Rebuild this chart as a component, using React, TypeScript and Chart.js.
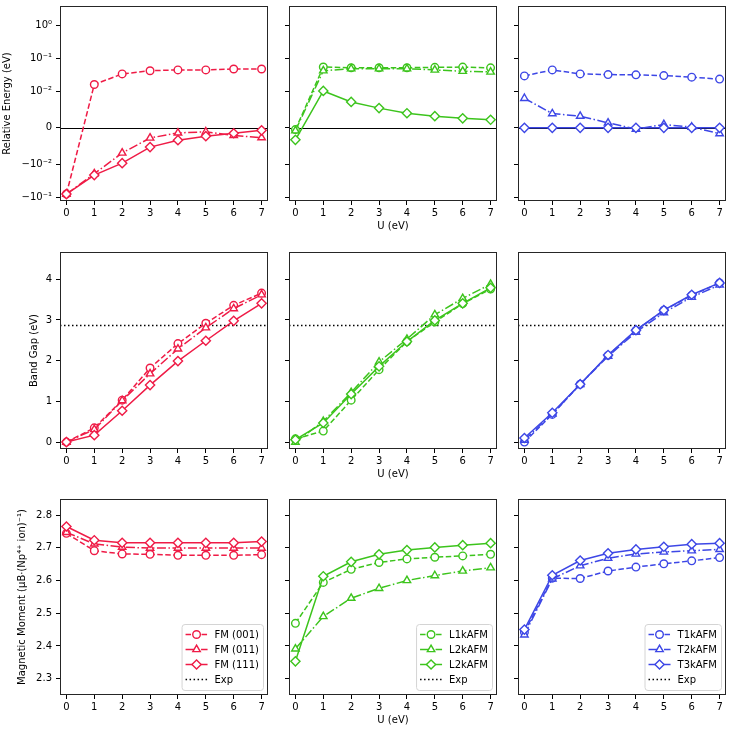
import React, { useEffect, useRef } from 'react';
import { Chart, registerables, Scale } from 'chart.js';

// ---------------- DATA ----------------
const U = [0, 1, 2, 3, 4, 5, 6, 7];
const xTickValues = [0, 1, 2, 3, 4, 5, 6, 7];

// Relative energy (eV), symlog axis
const energyFM001 = [-0.081, 0.0162, 0.034, 0.0425, 0.045, 0.045, 0.048, 0.048];
const energyFM011 = [-0.081, -0.0195, -0.0069, -0.0028, -0.0014, -0.0011, -0.0021, -0.0027];
const energyFM111 = [-0.081, -0.0214, -0.0097, -0.0053, -0.0034, -0.0023, -0.0015, -0.0007];
const energyL1k = [-0.0005, 0.0552, 0.0525, 0.0525, 0.0525, 0.054, 0.055, 0.052];
const energyL2k = [-0.0008, 0.0425, 0.049, 0.049, 0.049, 0.045, 0.041, 0.039];
const energyL3k = [-0.0033, 0.0103, 0.0071, 0.0054, 0.004, 0.0032, 0.0026, 0.0022];
const energyT1k = [0.0296, 0.045, 0.034, 0.0325, 0.0318, 0.0303, 0.0271, 0.0236];
const energyT2k = [0.0081, 0.0039, 0.0032, 0.00135, -0.00035, 0.0009, 0.0002, -0.0016];
const energyT3k = [0, 0, 0, 0, 0, 0, 0, 0];
const energyTicks = [-0.1, -0.01, 0, 0.01, 0.1, 1];
const energyTickLabels = ['\u221210\u207B\u00B9', '\u221210\u207B\u00B2', '0', '10\u207B\u00B2', '10\u207B\u00B9', '10\u2070'];
const energyMin = -0.132;
const energyMax = 4.0;
const energyRef = 0;

// Band gap (eV)
const gapFM001 = [0, 0.35, 1.03, 1.82, 2.42, 2.92, 3.36, 3.66];
const gapFM011 = [0, 0.31, 1.02, 1.68, 2.29, 2.81, 3.28, 3.62];
const gapFM111 = [0, 0.17, 0.77, 1.4, 1.99, 2.49, 2.98, 3.41];
const gapL1k = [0.08, 0.27, 1.03, 1.78, 2.47, 2.95, 3.4, 3.76];
const gapL2k = [0.0, 0.51, 1.22, 1.97, 2.53, 3.13, 3.53, 3.88];
const gapL3k = [0.06, 0.47, 1.18, 1.86, 2.47, 2.99, 3.41, 3.79];
const gapT1k = [0.0, 0.68, 1.42, 2.13, 2.74, 3.24, 3.6, 3.91];
const gapT2k = [0.05, 0.69, 1.42, 2.11, 2.7, 3.18, 3.56, 3.86];
const gapT3k = [0.1, 0.72, 1.42, 2.14, 2.75, 3.24, 3.62, 3.91];
const gapTicks = [0, 1, 2, 3, 4];
const gapMin = -0.17;
const gapMax = 4.67;
const gapExp = 2.88;

// Magnetic moment
const momentFM001 = [2.744, 2.691, 2.681, 2.68, 2.677, 2.677, 2.677, 2.679];
const momentFM011 = [2.747, 2.712, 2.702, 2.699, 2.699, 2.699, 2.699, 2.699];
const momentFM111 = [2.765, 2.723, 2.715, 2.715, 2.715, 2.715, 2.715, 2.719];
const momentL1k = [2.469, 2.594, 2.634, 2.655, 2.666, 2.671, 2.675, 2.68];
const momentL2k = [2.391, 2.49, 2.546, 2.576, 2.6, 2.615, 2.629, 2.639];
const momentL3k = [2.353, 2.613, 2.657, 2.68, 2.693, 2.701, 2.708, 2.714];
const momentT1k = [2.442, 2.607, 2.606, 2.629, 2.641, 2.651, 2.66, 2.67];
const momentT2k = [2.434, 2.605, 2.645, 2.668, 2.681, 2.687, 2.691, 2.695];
const momentT3k = [2.45, 2.616, 2.661, 2.683, 2.695, 2.703, 2.711, 2.714];
const momentTicks = [2.3, 2.4, 2.5, 2.6, 2.7, 2.8];
const momentMin = 2.25;
const momentMax = 2.849;

const labelsFM = ['FM (001)', 'FM (011)', 'FM (111)'];
const labelsL = ['L1kAFM', 'L2kAFM', 'L2kAFM'];
const labelsT = ['T1kAFM', 'T2kAFM', 'T3kAFM'];
const expLabel = 'Exp';

const yTitles = ['Relative Energy (eV)', 'Band Gap (eV)', 'Magnetic Moment (\u03BCB\u00B7(Np\u2074\u207A ion)\u207B\u00B9)'];
const xTitle = 'U (eV)';

// ---------------- STYLE / LAYOUT ----------------
const RED = '#ef1b46';
const GREEN = '#3cc41c';
const BLUE = '#3d47e6';
const FONT_FAMILY = "'DejaVu Sans', sans-serif";
const FONT = { family: FONT_FAMILY, size: 10 };
const X_MIN = -0.23;
const X_MAX = 7.23;
const COL_L = [60, 289, 518];
const PLOT_W = 210;
const ROW_T = [3, 249, 496];
const ROW_H = [198, 200, 199];
const PAD_TOP = 3;
const PAD_RIGHT = 4;
const X_AXIS_H = 32;
const Y_TITLE_PAD = [1, 28, 16];

const DASHES = [[5.5, 2.5], [9, 2.5, 1.5, 2.5], []];
const POINTS = ['circle', 'triangle', 'rectRot'];
const RADII = [3.8, 4.3, 4.6];

// ---------------- SYMLOG SCALE ----------------
const LINTHRESH = 0.01;
const LINSCALE_ADJ = 1 / (1 - 1 / 10);
function symT(v: number) {
  const a = Math.abs(v);
  if (a <= LINTHRESH) return (v / LINTHRESH) * LINSCALE_ADJ;
  return Math.sign(v) * (LINSCALE_ADJ + Math.log10(a / LINTHRESH));
}
function symInv(t: number) {
  const a = Math.abs(t);
  if (a <= LINSCALE_ADJ) return (t / LINSCALE_ADJ) * LINTHRESH;
  return Math.sign(t) * LINTHRESH * Math.pow(10, a - LINSCALE_ADJ);
}

class SymlogScale extends Scale {
  static id = 'symlog';
  static defaults = {};
  determineDataLimits() {
    // @ts-ignore
    this.min = this.options.min;
    // @ts-ignore
    this.max = this.options.max;
  }
  buildTicks() {
    return [];
  }
  getLabelForValue(v: any) {
    return String(v);
  }
  getPixelForValue(v: any) {
    if (v === null || v === undefined || isNaN(v)) return NaN;
    // @ts-ignore
    const t0 = symT(this.min), t1 = symT(this.max);
    // @ts-ignore
    return this.getPixelForDecimal((symT(v) - t0) / (t1 - t0));
  }
  getValueForPixel(p: number) {
    // @ts-ignore
    const t0 = symT(this.min), t1 = symT(this.max);
    // @ts-ignore
    return symInv(t0 + this.getDecimalForPixel(p) * (t1 - t0));
  }
}

Chart.register(...registerables, SymlogScale as any);

// ---------------- PANELS ----------------
type Kind = 'energy' | 'gap' | 'moment';
type PanelCfg = { row: number; col: number; kind: Kind; series: number[][]; labels: string[]; color: string };

const PANELS: PanelCfg[] = [
  { row: 0, col: 0, kind: 'energy', series: [energyFM001, energyFM011, energyFM111], labels: labelsFM, color: RED },
  { row: 0, col: 1, kind: 'energy', series: [energyL1k, energyL2k, energyL3k], labels: labelsL, color: GREEN },
  { row: 0, col: 2, kind: 'energy', series: [energyT1k, energyT2k, energyT3k], labels: labelsT, color: BLUE },
  { row: 1, col: 0, kind: 'gap', series: [gapFM001, gapFM011, gapFM111], labels: labelsFM, color: RED },
  { row: 1, col: 1, kind: 'gap', series: [gapL1k, gapL2k, gapL3k], labels: labelsL, color: GREEN },
  { row: 1, col: 2, kind: 'gap', series: [gapT1k, gapT2k, gapT3k], labels: labelsT, color: BLUE },
  { row: 2, col: 0, kind: 'moment', series: [momentFM001, momentFM011, momentFM111], labels: labelsFM, color: RED },
  { row: 2, col: 1, kind: 'moment', series: [momentL1k, momentL2k, momentL3k], labels: labelsL, color: GREEN },
  { row: 2, col: 2, kind: 'moment', series: [momentT1k, momentT2k, momentT3k], labels: labelsT, color: BLUE },
];

function markerPath(ctx: CanvasRenderingContext2D, style: string, x: number, y: number, r: number) {
  ctx.beginPath();
  if (style === 'circle') {
    ctx.arc(x, y, r, 0, Math.PI * 2);
  } else if (style === 'triangle') {
    ctx.moveTo(x, y - r);
    ctx.lineTo(x + r * Math.sin((2 * Math.PI) / 3), y - r * Math.cos((2 * Math.PI) / 3));
    ctx.lineTo(x + r * Math.sin((4 * Math.PI) / 3), y - r * Math.cos((4 * Math.PI) / 3));
  } else if (style === 'rectRot') {
    ctx.moveTo(x - r, y);
    ctx.lineTo(x, y - r);
    ctx.lineTo(x + r, y);
    ctx.lineTo(x, y + r);
  }
  ctx.closePath();
}

function makeDecorPlugin(hline: { value: number; dash: number[]; width: number } | null, legend: boolean) {
  return {
    id: 'decor',
    beforeDatasetsDraw(chart: any) {
      if (!hline) return;
      const { ctx, chartArea } = chart;
      const y = Math.round(chart.scales.y.getPixelForValue(hline.value)) + 0.5;
      ctx.save();
      ctx.strokeStyle = '#000';
      ctx.lineWidth = hline.width;
      ctx.setLineDash(hline.dash);
      ctx.beginPath();
      ctx.moveTo(chartArea.left, y);
      ctx.lineTo(chartArea.right, y);
      ctx.stroke();
      ctx.restore();
    },
    afterDatasetsDraw(chart: any) {
      if (!legend) return;
      const { ctx, chartArea } = chart;
      const items = chart.data.datasets.filter((d: any) => d.label);
      ctx.save();
      ctx.font = `10px ${FONT_FAMILY}`;
      const tw = Math.max(...items.map((d: any) => ctx.measureText(d.label).width));
      const rowH = 15, padX = 4, padY = 3, handle = 22, gap = 7;
      const w = padX + handle + gap + tw + padX;
      const h = padY * 2 + rowH * items.length;
      const x = chartArea.right - 5 - w;
      const y = chartArea.bottom - 5 - h;
      ctx.beginPath();
      if ((ctx as any).roundRect) (ctx as any).roundRect(x + 0.5, y + 0.5, w, h, 3);
      else ctx.rect(x + 0.5, y + 0.5, w, h);
      ctx.fillStyle = 'rgba(255,255,255,0.8)';
      ctx.fill();
      ctx.strokeStyle = '#d4d4d4';
      ctx.lineWidth = 1;
      ctx.stroke();
      items.forEach((d: any, i: number) => {
        const cy = y + padY + rowH * i + rowH / 2;
        const x0 = x + padX;
        ctx.save();
        ctx.strokeStyle = d.borderColor;
        ctx.lineWidth = d.borderWidth;
        ctx.setLineDash(d.borderDash || []);
        ctx.beginPath();
        ctx.moveTo(x0, cy);
        ctx.lineTo(x0 + handle, cy);
        ctx.stroke();
        ctx.restore();
        if (d.pointRadius > 0) {
          ctx.save();
          ctx.setLineDash([]);
          ctx.lineWidth = d.pointBorderWidth;
          ctx.strokeStyle = d.borderColor;
          ctx.fillStyle = '#ffffff';
          markerPath(ctx, d.pointStyle, x0 + handle / 2, cy, d.pointRadius);
          ctx.fill();
          ctx.stroke();
          ctx.restore();
        }
        ctx.fillStyle = '#000';
        ctx.textBaseline = 'middle';
        ctx.textAlign = 'left';
        ctx.fillText(d.label, x0 + handle + gap, cy + 0.5);
      });
      ctx.restore();
    },
    afterDraw(chart: any) {
      const { ctx, chartArea } = chart;
      ctx.save();
      ctx.strokeStyle = '#262626';
      ctx.lineWidth = 1;
      ctx.setLineDash([]);
      ctx.strokeRect(chartArea.left + 0.5, chartArea.top + 0.5, chartArea.right - chartArea.left - 1, chartArea.bottom - chartArea.top - 1);
      ctx.restore();
    },
  };
}

function axisWidth(col: number) {
  return col === 0 ? COL_L[0] : 12;
}

function buildConfig(cfg: PanelCfg): any {
  const datasets: any[] = cfg.series.map((vals, i) => ({
    label: cfg.labels[i],
    data: U.map((u, k) => ({ x: u, y: vals[k] })),
    borderColor: cfg.color,
    backgroundColor: '#ffffff',
    borderWidth: 1.5,
    borderDash: DASHES[i],
    pointStyle: POINTS[i],
    pointRadius: RADII[i],
    pointBorderWidth: 1.4,
    pointBackgroundColor: '#ffffff',
    pointBorderColor: cfg.color,
    tension: 0,
    fill: false,
    order: 3 - i,
  }));
  const legend = cfg.kind === 'moment';
  if (legend) {
    datasets.push({
      label: expLabel,
      data: [],
      borderColor: '#000',
      borderWidth: 1.5,
      borderDash: [1.5, 2.5],
      pointRadius: 0,
      pointBorderWidth: 0,
      order: 0,
    });
  }

  const col0 = cfg.col === 0;
  let yScale: any;
  const yCommon = {
    position: 'left',
    grid: { display: true, drawOnChartArea: false, drawTicks: true, tickLength: 4, color: '#000', lineWidth: 1 },
    border: { display: false },
    afterFit: (s: any) => {
      s.width = axisWidth(cfg.col);
      s.paddingTop = 0;
      s.paddingBottom = 0;
    },
    title: {
      display: col0,
      text: yTitles[cfg.row],
      font: FONT,
      color: '#000',
      padding: { top: Y_TITLE_PAD[cfg.row], bottom: 0 },
    },
  };
  const tickCommon = { display: col0, font: FONT, color: '#000', padding: 4, autoSkip: false };
  if (cfg.kind === 'energy') {
    yScale = {
      ...yCommon,
      type: 'symlog',
      min: energyMin,
      max: energyMax,
      afterBuildTicks: (s: any) => { s.ticks = energyTicks.map((v) => ({ value: v })); },
      ticks: { ...tickCommon, callback: (v: number) => energyTickLabels[energyTicks.indexOf(v)] },
    };
  } else if (cfg.kind === 'gap') {
    yScale = {
      ...yCommon,
      type: 'linear',
      bounds: 'data',
      min: gapMin,
      max: gapMax,
      afterBuildTicks: (s: any) => { s.ticks = gapTicks.map((v) => ({ value: v })); },
      ticks: { ...tickCommon, callback: (v: number) => String(v) },
    };
  } else {
    yScale = {
      ...yCommon,
      type: 'linear',
      bounds: 'data',
      min: momentMin,
      max: momentMax,
      afterBuildTicks: (s: any) => { s.ticks = momentTicks.map((v) => ({ value: v })); },
      ticks: { ...tickCommon, callback: (v: number) => v.toFixed(1) },
    };
  }

  const hline =
    cfg.kind === 'energy'
      ? { value: energyRef, dash: [], width: 1 }
      : cfg.kind === 'gap'
      ? { value: gapExp, dash: [1.5, 2.5], width: 1.5 }
      : null;

  return {
    type: 'line',
    data: { datasets },
    options: {
      responsive: false,
      animation: false,
      devicePixelRatio: 1,
      events: [],
      layout: { padding: { top: PAD_TOP, right: PAD_RIGHT, left: 0, bottom: 0 } },
      plugins: { legend: { display: false }, tooltip: { enabled: false } },
      scales: {
        x: {
          type: 'linear',
          position: 'bottom',
          bounds: 'data',
          min: X_MIN,
          max: X_MAX,
          afterBuildTicks: (s: any) => { s.ticks = xTickValues.map((v) => ({ value: v })); },
          afterFit: (s: any) => {
            s.height = X_AXIS_H;
            s.paddingLeft = 0;
            s.paddingRight = 0;
          },
          ticks: { font: FONT, color: '#000', padding: 2, autoSkip: false, maxRotation: 0, callback: (v: number) => String(v) },
          grid: { display: true, drawOnChartArea: false, drawTicks: true, tickLength: 4, color: '#000', lineWidth: 1 },
          border: { display: false },
          title: { display: cfg.col === 1, text: xTitle, font: FONT, color: '#000', padding: { top: 0, bottom: 1 } },
        },
        y: yScale,
      },
    },
    plugins: [makeDecorPlugin(hline, legend)],
  };
}

function Panel({ cfg }: { cfg: PanelCfg }) {
  const ref = useRef<HTMLCanvasElement>(null);
  useEffect(() => {
    if (!ref.current) return;
    const chart = new Chart(ref.current, buildConfig(cfg));
    return () => chart.destroy();
  }, [cfg]);
  const aw = axisWidth(cfg.col);
  const left = COL_L[cfg.col] - aw;
  const top = ROW_T[cfg.row] - PAD_TOP;
  const width = aw + PLOT_W + PAD_RIGHT;
  const height = PAD_TOP + ROW_H[cfg.row] + X_AXIS_H;
  return (
    <canvas
      ref={ref}
      width={width}
      height={height}
      style={{ position: 'absolute', left, top, width, height, display: 'block' }}
    />
  );
}

export default function App() {
  return (
    <div style={{ position: 'absolute', left: 0, top: 0, width: 732, height: 730, background: '#fff', overflow: 'hidden' }}>
      {PANELS.map((p) => (
        <Panel key={`${p.row}-${p.col}`} cfg={p} />
      ))}
    </div>
  );
}
